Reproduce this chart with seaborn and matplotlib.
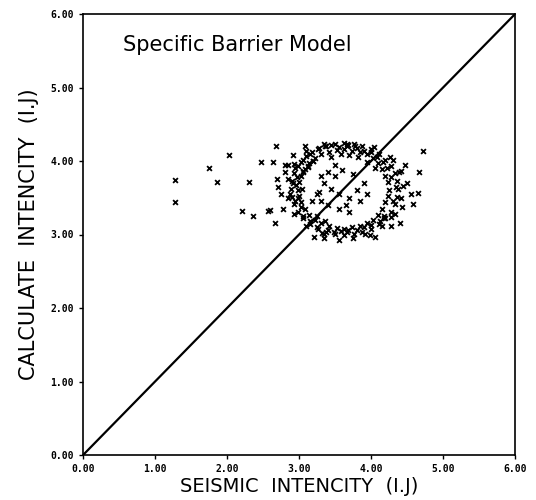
import numpy as np
import pandas as pd
import seaborn as sns
import matplotlib.pyplot as plt

# outlying points
out_x = [1.28, 1.28, 1.75, 1.86, 2.03, 2.31, 2.21, 2.36, 2.47, 2.57, 2.68, 2.71, 2.64, 2.81, 2.60,
         2.67, 2.92, 3.08, 3.67, 4.72, 4.67, 4.39, 4.31, 4.65, 4.58, 4.43, 4.40, 4.28, 4.28, 3.99, 3.21]
out_y = [3.74, 3.44, 3.90, 3.71, 4.08, 3.72, 3.32, 3.25, 3.98, 3.32, 4.20, 3.64, 3.98, 3.95, 3.34,
         3.16, 4.08, 4.20, 4.23, 4.13, 3.85, 3.85, 4.02, 3.57, 3.41, 3.38, 3.16, 3.12, 3.24, 2.99, 2.96]

# dense ring of points around (3.6, 3.6)
ring_x = [4.37, 4.25, 4.45, 4.36, 4.23, 4.33, 4.20, 4.41, 4.27, 4.15, 4.20, 4.10, 4.26, 4.11, 4.02,
          4.00, 3.95, 4.04, 3.88, 3.84, 3.76, 3.73, 3.80, 3.63, 3.62, 3.66, 3.50, 3.53, 3.38, 3.42,
          3.35, 3.26, 3.31, 3.15, 3.22, 3.10, 3.06, 3.14, 2.99, 3.08, 2.93, 2.93, 3.03, 2.90, 3.00,
          2.84, 2.89, 2.99, 2.90, 3.00, 2.84, 2.93, 3.03, 2.99, 3.08, 2.93, 3.06, 3.14, 3.15, 3.22,
          3.10, 3.26, 3.31, 3.38, 3.42, 3.35, 3.50, 3.53, 3.63, 3.62, 3.66, 3.76, 3.73, 3.88, 3.84,
          3.91, 4.00, 3.95, 4.11, 4.02, 4.15, 4.20, 4.10, 4.27, 4.15, 4.33, 4.33, 4.20, 4.36, 4.23,
          4.42, 3.20, 3.12, 3.05, 2.96, 3.28, 3.18, 3.45, 3.58, 3.70, 3.82, 3.94, 4.06, 3.25, 3.36]
ring_y = [3.62, 3.60, 3.66, 3.73, 3.71, 3.83, 3.80, 3.86, 3.93, 3.89, 4.02, 3.97, 4.06, 4.10, 4.04,
          4.16, 4.09, 4.19, 4.20, 4.12, 4.23, 4.14, 4.18, 4.24, 4.16, 4.20, 4.23, 4.15, 4.20, 4.12,
          4.23, 4.16, 4.09, 4.10, 4.04, 4.13, 4.02, 3.97, 3.93, 3.89, 3.96, 3.83, 3.80, 3.73, 3.71,
          3.75, 3.62, 3.61, 3.51, 3.53, 3.49, 3.41, 3.44, 3.31, 3.35, 3.28, 3.22, 3.27, 3.14, 3.20,
          3.11, 3.08, 3.15, 3.04, 3.12, 3.01, 3.01, 3.09, 3.00, 3.08, 3.03, 3.01, 3.10, 3.04, 3.12,
          3.01, 3.08, 3.15, 3.14, 3.20, 3.11, 3.22, 3.27, 3.31, 3.35, 3.28, 3.41, 3.44, 3.51, 3.53,
          3.49, 4.00, 3.92, 3.85, 3.68, 3.58, 3.45, 4.06, 4.10, 4.08, 4.05, 3.98, 3.90, 3.25, 3.18]

# more ring points, mostly on the dark left, top and bottom parts
ring2_x = [2.95, 3.02, 3.10, 3.18, 3.27, 3.36, 3.45, 3.55, 3.68, 3.78, 3.90, 4.00, 4.08, 4.16,
           4.22, 2.92, 2.97, 3.05, 3.12, 3.20, 2.88, 2.95, 3.02, 3.40, 3.48, 3.58, 3.68, 3.80,
           3.90, 4.00, 4.12, 4.18, 4.30, 4.35, 4.28, 4.18, 3.05, 3.15, 3.25, 3.32, 2.98, 3.04]
ring2_y = [3.90, 3.98, 4.07, 4.12, 4.18, 4.20, 4.22, 4.19, 4.22, 4.21, 4.14, 4.12, 4.06, 3.98,
           3.90, 3.70, 3.78, 3.86, 3.93, 4.00, 3.55, 3.45, 3.38, 3.06, 3.03, 3.05, 3.06, 3.06,
           3.10, 3.13, 3.18, 3.25, 3.45, 3.65, 3.78, 3.22, 3.25, 3.18, 3.10, 3.02, 3.50, 3.62]

# sparser points inside the ring and just outside it
in_x = [3.40, 3.50, 3.60, 3.75, 3.35, 3.45, 3.55, 3.70, 3.85, 3.40, 3.55, 3.70, 3.25, 3.30, 3.90,
        3.80, 3.50, 3.65, 3.95, 3.30, 2.80, 2.75, 2.78, 2.85, 2.70, 4.50, 4.47, 4.05, 3.35, 3.55,
        3.75, 4.55]
in_y = [3.85, 3.80, 3.88, 3.82, 3.70, 3.62, 3.55, 3.50, 3.45, 3.40, 3.35, 3.30, 3.55, 3.80, 3.70,
        3.60, 3.95, 3.40, 3.55, 3.45, 3.85, 3.55, 3.35, 3.95, 3.75, 3.70, 3.95, 2.97, 2.95, 2.93,
        2.95, 3.55]

diag_x = [0, 6]
diag_y = [0, 6]

tick_vals = [0, 1, 2, 3, 4, 5, 6]
tick_labels = ["0.00", "1.00", "2.00", "3.00", "4.00", "5.00", "6.00"]

df = pd.DataFrame({"seismic": out_x + ring_x + ring2_x + in_x,
                   "calc": out_y + ring_y + ring2_y + in_y})

sns.set_style("ticks")
fig = plt.figure(figsize=(5.36, 5.0), dpi=100)
ax = fig.add_axes([0.155, 0.09, 0.806, 0.882])

sns.lineplot(x=diag_x, y=diag_y, ax=ax, color="black", linewidth=1.6)
sns.scatterplot(data=df, x="seismic", y="calc", ax=ax, marker="x", color="black",
                s=12, linewidth=1.3)

ax.set_xlim(0, 6)
ax.set_ylim(0, 6)
ax.set_xticks(tick_vals)
ax.set_xticklabels(tick_labels, fontsize=7, fontweight="bold", family="DejaVu Sans Mono")
ax.set_yticks(tick_vals)
ax.set_yticklabels(tick_labels, fontsize=7, fontweight="bold", family="DejaVu Sans Mono")
ax.tick_params(direction="out", length=3, width=1, colors="black")
for s in ax.spines.values():
    s.set_color("black")
    s.set_linewidth(1.2)

ax.set_xlabel("SEISMIC  INTENCITY  (I.J)", fontsize=14, labelpad=2, color="black")
ax.set_ylabel("CALCULATE  INTENCITY  (I.J)", fontsize=15, labelpad=8, color="black")
ax.text(0.55, 5.58, "Specific Barrier Model", fontsize=15, ha="left", va="center", color="black")

fig.savefig("out.png", dpi=100)
